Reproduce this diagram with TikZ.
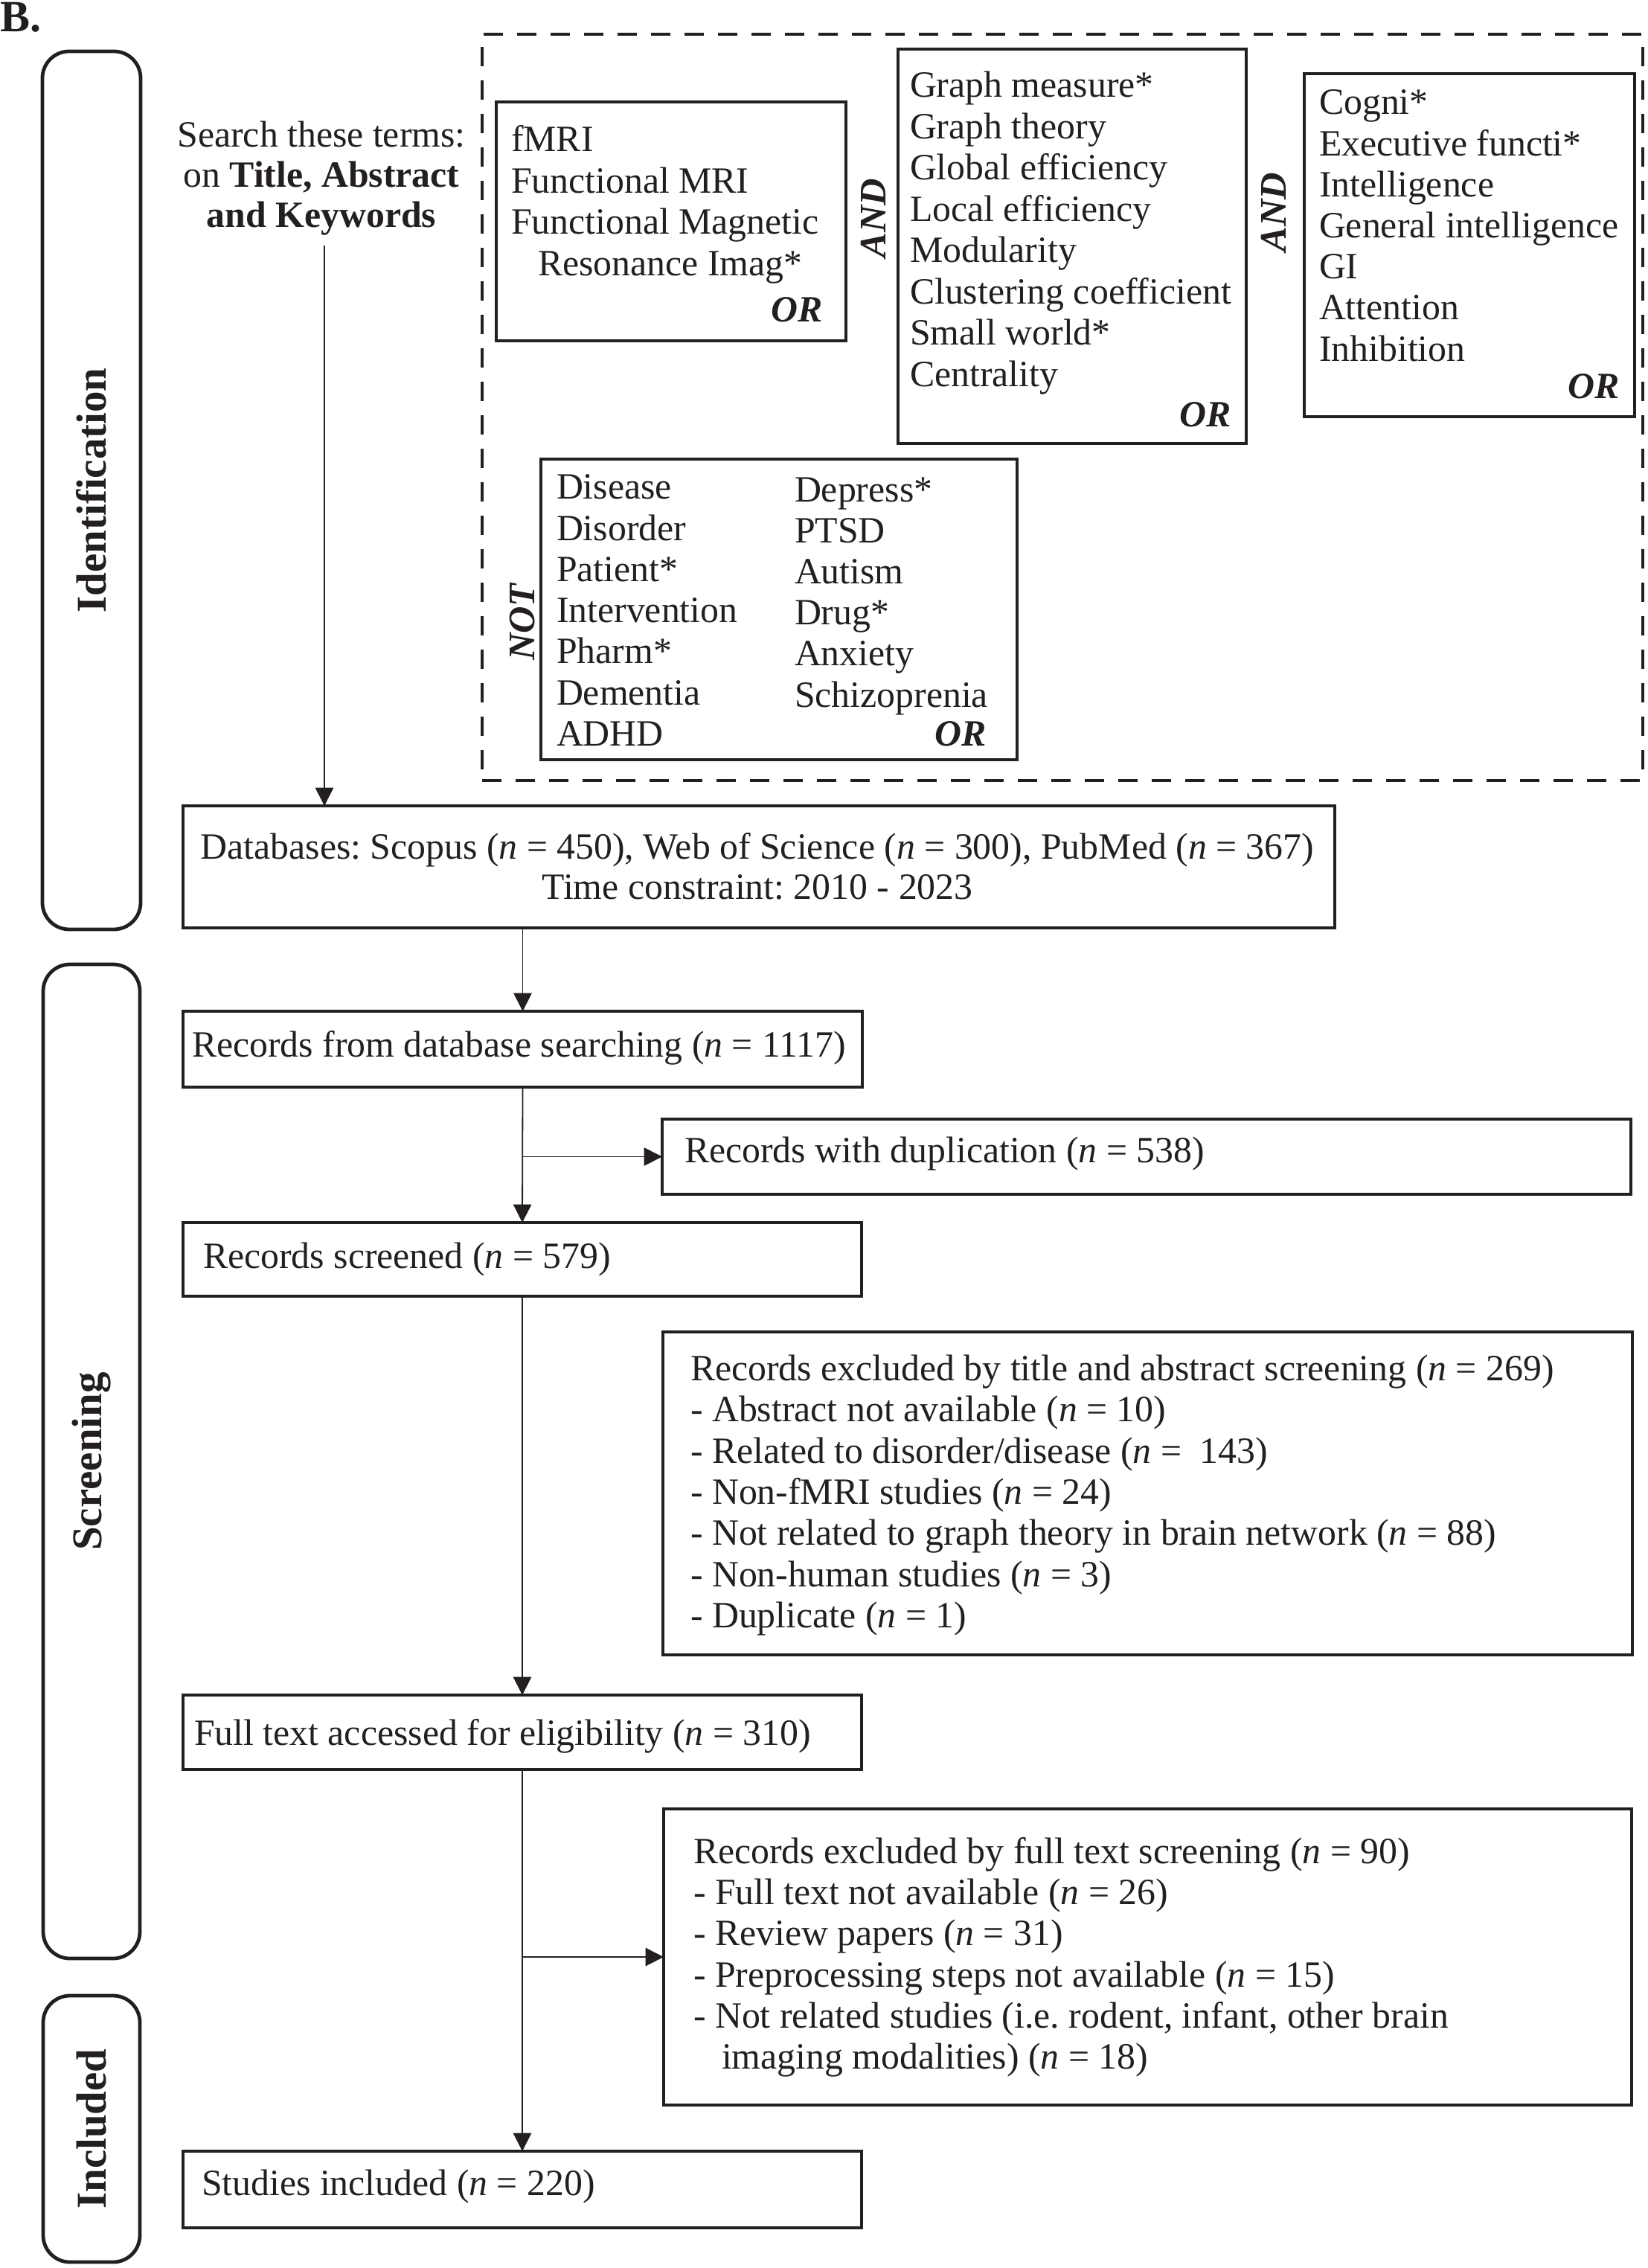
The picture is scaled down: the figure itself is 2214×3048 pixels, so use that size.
\documentclass[tikz,border=0pt]{standalone}
\usepackage{fontspec}
\setmainfont{Liberation Serif}
\usetikzlibrary{arrows.meta,fit}
\definecolor{ink}{RGB}{35,31,32}
\newcommand{\nn}{\textit{n}}
\frenchspacing
\begin{document}
\begin{tikzpicture}[x=0.25pt,y=-0.25pt,
  every node/.style={inner sep=0pt, outer sep=0pt, text=ink},
  txt/.style={font=\fontsize{12.45}{14}\selectfont, anchor=base west},
  ctxt/.style={font=\fontsize{12.45}{14}\selectfont, anchor=base},
  orl/.style={font=\fontsize{12.45}{14}\selectfont\bfseries\itshape, anchor=base east},
  oplab/.style={font=\fontsize{12.6}{14}\selectfont\bfseries\itshape, rotate=90},
  box/.style={draw=ink, line width=1pt, inner sep=0pt},
  sidebox/.style={draw=ink, line width=1.2pt, rounded corners=9pt, inner sep=0pt},
  sidelab/.style={font=\fontsize{14.25}{16}\selectfont\bfseries, rotate=90},
  dashbox/.style={draw=ink, line width=1pt, dash pattern=on 6.5pt off 4.75pt, inner sep=0pt},
  arr/.style={draw=ink, line width=0.45pt, -{Triangle[length=6.1pt,width=6.1pt]}},
  ln/.style={draw=ink, line width=0.45pt}]
\useasboundingbox (0,0) rectangle (2214,3048);
% panel letter
\node[font=\fontsize{15}{17}\selectfont\bfseries, anchor=base west] (B) at (0,43) {B.};
% side stage boxes
\node[sidebox, fit={(57,69) (189,1249)}] (idb) {};
\node[sidelab] (idl) at (idb.center) {Identification};
\node[sidebox, fit={(58,1296) (188,2632)}] (scb) {};
\node[sidelab] (scl) at (scb.center) {Screening};
\node[sidebox, fit={(58,2682) (188,3040)}] (inb) {};
\node[sidelab] (inl) at (inb.center) {Included};
% search terms
\node[ctxt] (s1) at (432,198) {Search these terms:};
\node[ctxt] (s2) at (432,252) {on \textbf{Title, Abstract}};
\node[ctxt] (s3) at (432,306) {\textbf{and Keywords}};
\coordinate (s0) at (436,330);
% dashed frame
\node[dashbox, fit={(648,46) (2208,1049)}] (dsh) {};
% fMRI box
\node[box, fit={(667,137) (1137,458)}] (fm) {};
\node[txt] (fm1) at (687,204) {fMRI};
\node[txt] (fm2) at (687,260) {Functional MRI};
\node[txt] (fm3) at (687,315) {Functional Magnetic};
\node[txt] (fm4) at (723,371) {Resonance Imag*};
\node[orl] (fmo) at (1106,433) {OR};
\node[oplab] (and1) at (1174,293) {AND};
% graph box
\node[box, fit={(1207,66) (1675,596)}] (gr) {};
\foreach \t [count=\i from 0] in {Graph measure*,Graph theory,Global efficiency,Local efficiency,Modularity,Clustering coefficient,Small world*,Centrality}
  \node[txt] (gr\i) at (1223,{131+55.5*\i}) {\t};
\node[orl] (gro) at (1655,574) {OR};
\node[oplab] (and2) at (1712,285) {AND};
% cognition box
\node[box, fit={(1753,99) (2197,560)}] (cg) {};
\foreach \t [count=\i from 0] in {Cogni*,Executive functi*,Intelligence,General intelligence,GI,Attention,Inhibition}
  \node[txt] (cg\i) at (1773,{154+55.2*\i}) {\t};
\node[orl] (cgo) at (2177,536) {OR};
% NOT box
\node[box, fit={(727,617) (1367,1021)}] (nt) {};
\foreach \t [count=\i from 0] in {Disease,Disorder,Patient*,Intervention,Pharm*,Dementia,ADHD}
  \node[txt] (na\i) at (748,{671+55.2*\i}) {\t};
\foreach \t [count=\i from 0] in {Depress*,PTSD,Autism,Drug*,Anxiety,Schizoprenia}
  \node[txt] (nb\i) at (1068,{674+55.2*\i}) {\t};
\node[orl] (nto) at (1326,1002) {OR};
\node[oplab] (notl) at (702,836) {NOT};
% flow boxes
\node[box, fit={(246,1083) (1794,1247)}] (db) {};
\node[ctxt] (db1) at (1018,1154) {Databases: Scopus (\nn{} = 450), Web of Science (\nn{} = 300), PubMed (\nn{} = 367)};
\node[ctxt] (db2) at (1018,1208) {Time constraint: 2010 - 2023};
\node[box, fit={(246,1359) (1159,1461)}] (rec) {};
\node[txt] (rect) at (258,1420) {Records from database searching (\nn{} = 1117)};
\node[box, fit={(890,1504) (2192,1605)}] (dup) {};
\node[txt] (dupt) at (920,1562) {Records with duplication (\nn{} = 538)};
\node[box, fit={(246,1643) (1158,1742)}] (scr) {};
\node[txt] (scrt) at (273,1704) {Records screened (\nn{} = 579)};
\node[box, fit={(891,1790) (2194,2224)}] (ex1) {};
\node[txt] (e10) at (928,1855) {Records excluded by title and abstract screening (\nn{} = 269)};
\node[txt] (e11) at (928,1910) {- Abstract not available (\nn{} = 10)};
\node[txt] (e12) at (928,1966) {- Related to disorder/disease (\nn{} = \ 143)};
\node[txt] (e13) at (928,2021) {- Non-fMRI studies (\nn{} = 24)};
\node[txt] (e14) at (928,2076) {- Not related to graph theory in brain network (\nn{} = 88)};
\node[txt] (e15) at (928,2132) {- Non-human studies (\nn{} = 3)};
\node[txt] (e16) at (928,2187) {- Duplicate (\nn{} = 1)};
\node[box, fit={(246,2278) (1158,2378)}] (ft) {};
\node[txt] (ftt) at (261,2345) {Full text accessed for eligibility (\nn{} = 310)};
\node[box, fit={(892,2431) (2193,2829)}] (ex2) {};
\node[txt] (e20) at (932,2504) {Records excluded by full text screening (\nn{} = 90)};
\node[txt] (e21) at (932,2559) {- Full text not available (\nn{} = 26)};
\node[txt] (e22) at (932,2614) {- Review papers (\nn{} = 31)};
\node[txt] (e23) at (932,2670) {- Preprocessing steps not available (\nn{} = 15)};
\node[txt] (e24) at (932,2725) {- Not related studies (i.e. rodent, infant, other brain};
\node[txt] (e25) at (970,2780) {imaging modalities) (\nn{} = 18)};
\node[box, fit={(246,2891) (1158,2994)}] (inc) {};
\node[txt] (inct) at (271,2950) {Studies included (\nn{} = 220)};
% connectors
\draw[arr] (s0) -- (s0 |- db.north);
\draw[arr] (rec.north |- db.south) -- (rec.north);
\draw[arr] (rec.south) -- (scr.north);
\draw[arr] (rec.south |- dup.west) -- (dup.west);
\draw[arr] (scr.south) -- (ft.north);
\draw[arr] (ft.south) -- (inc.north);
\draw[arr] (ft.south |- ex2.west) -- (ex2.west);
\end{tikzpicture}
\end{document}
